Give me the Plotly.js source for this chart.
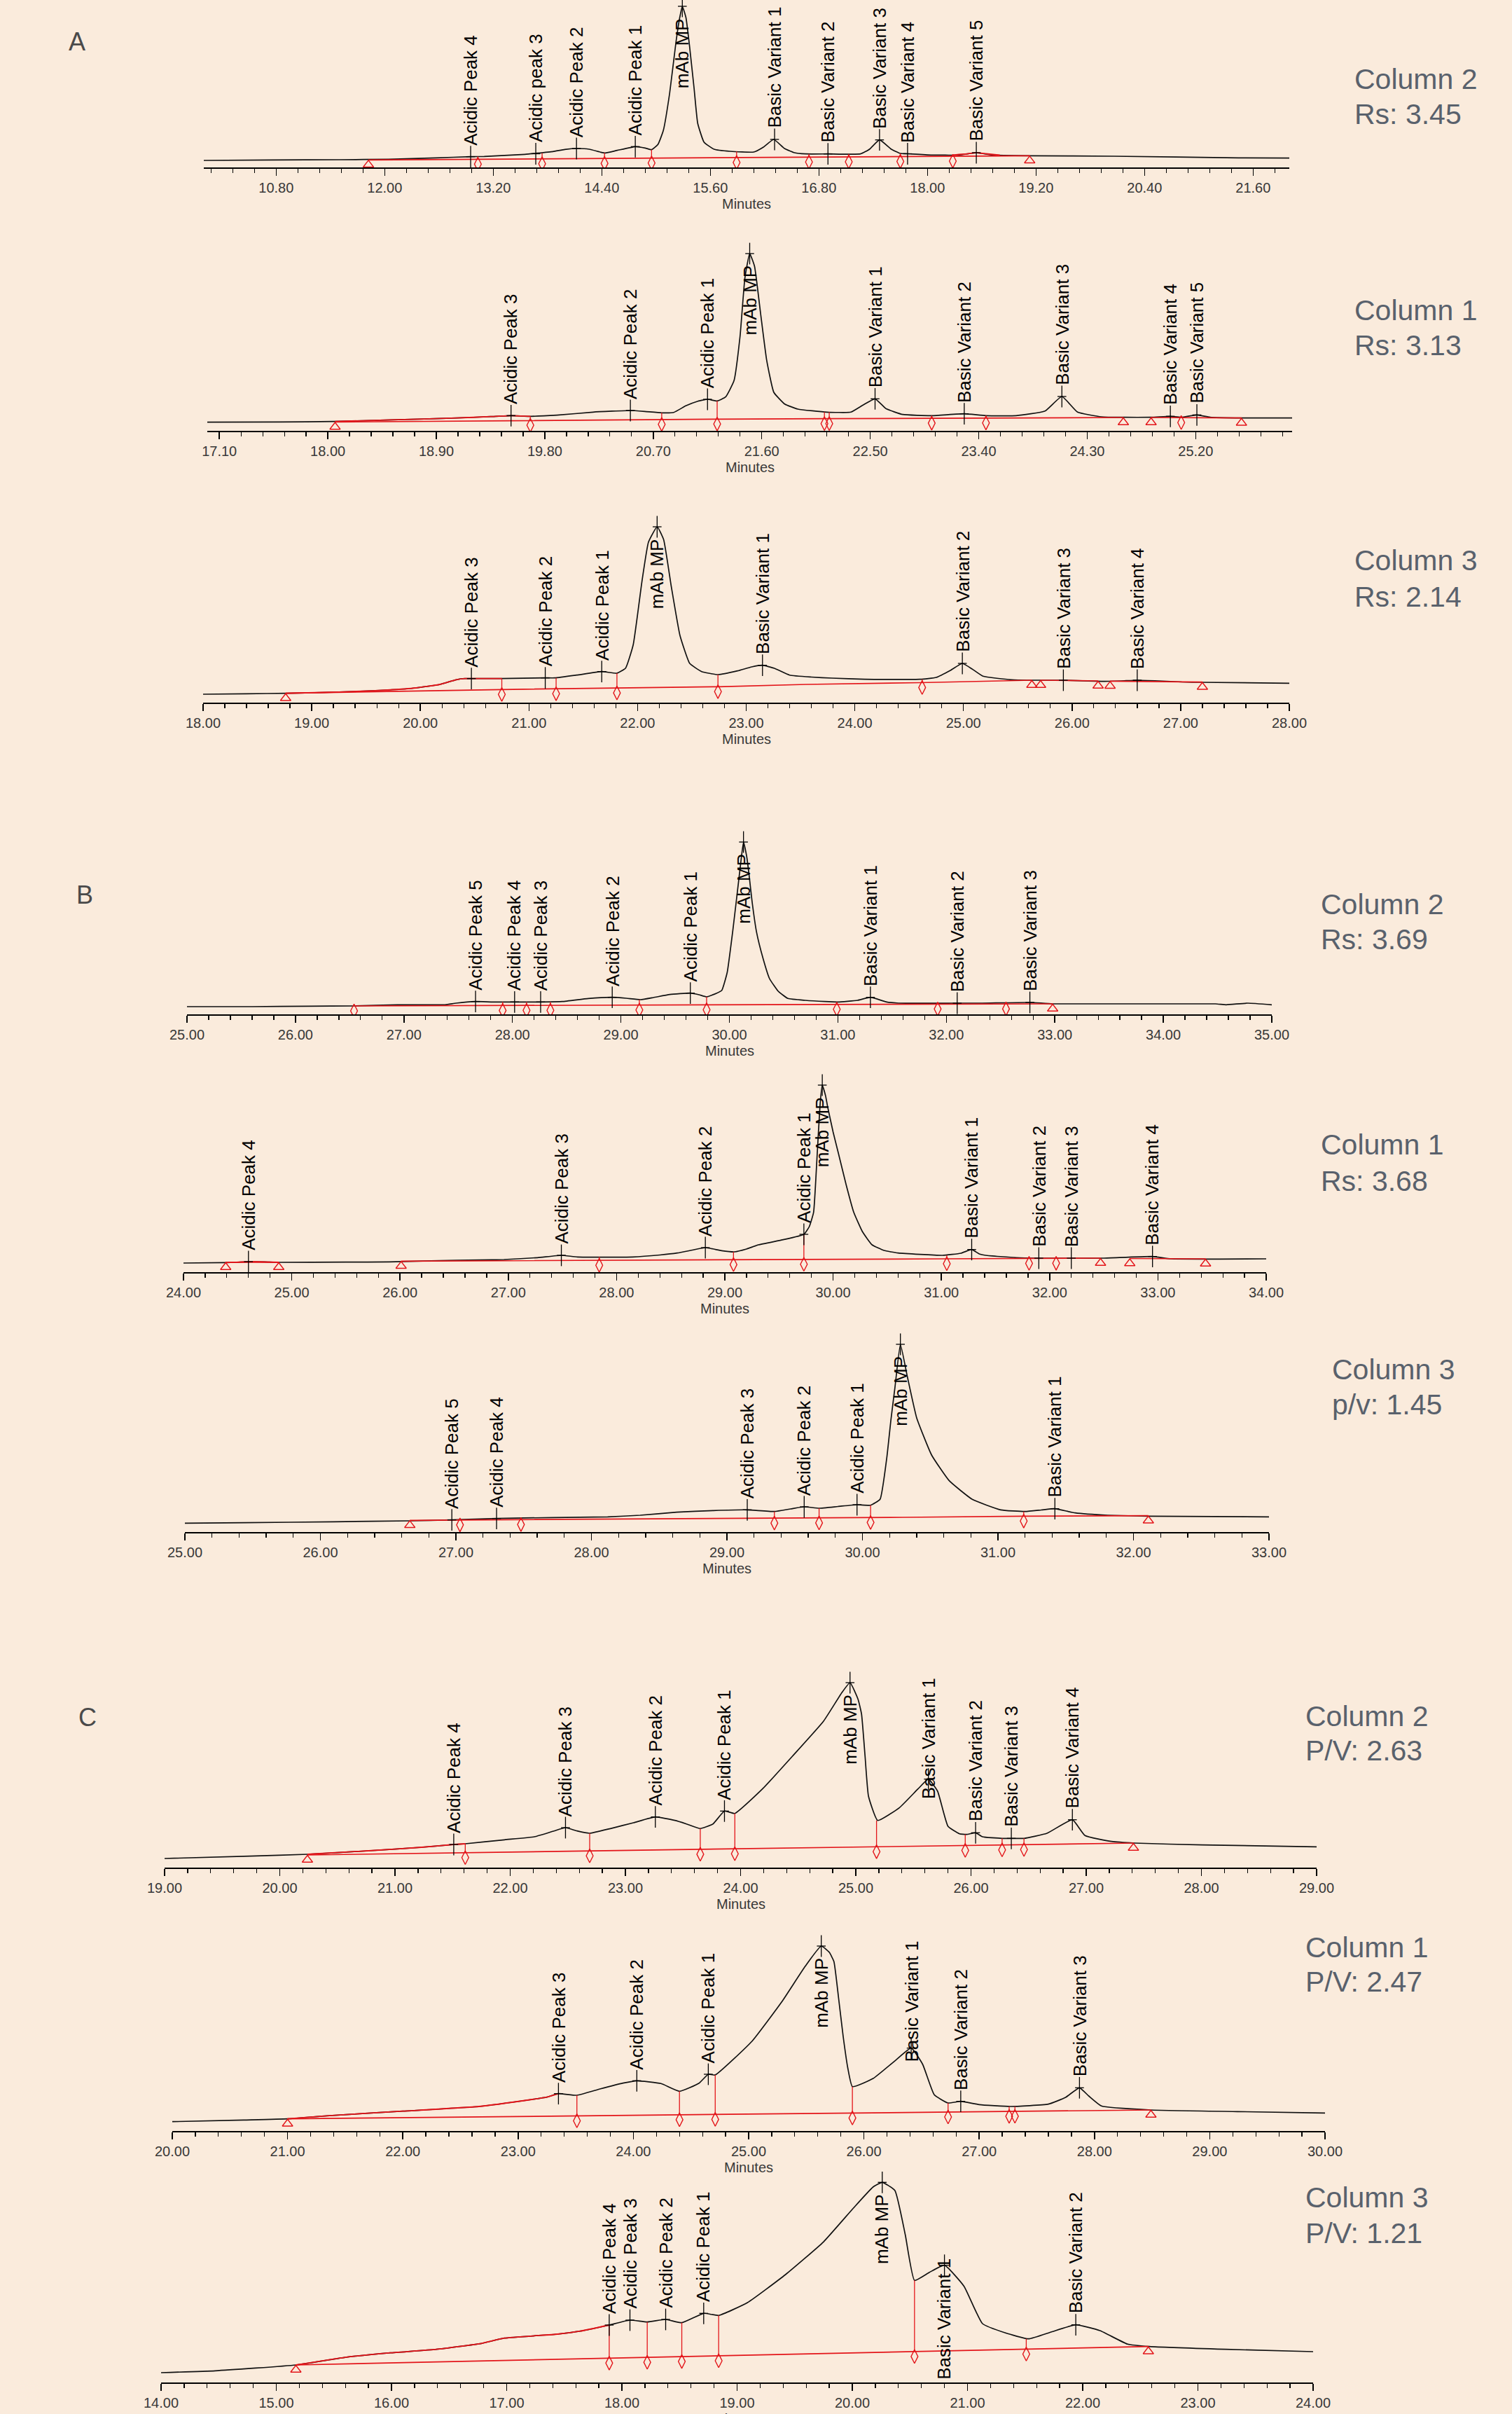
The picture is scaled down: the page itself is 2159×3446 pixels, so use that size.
<!DOCTYPE html>
<html><head><meta charset="utf-8">
<script src="https://cdn.plot.ly/plotly-3.0.1.min.js"></script>
<style>html,body{margin:0;padding:0;background:#FAEBDC}#chart{width:2159px;height:3446px}</style>
</head><body><div id="chart"></div>
<script>
// ===================== DATA =====================
// Heights are signal heights above the time axis (arbitrary units).
// ---- A, Column 2 ----
const A1_x = [10.00,10.75,11.50,12.04,12.57,12.95,13.10,13.55,13.68,13.86,13.99,14.13,14.26,14.39,14.44,14.57,14.77,14.88,14.95,15.02,15.08,15.15,15.22,15.26,15.29,15.33,15.37,15.42,15.46,15.53,15.64,15.82,16.08,16.19,16.30,16.42,16.53,16.65,16.90,17.26,17.36,17.47,17.60,17.70,17.78,18.04,18.35,18.54,18.72,19.14,20.06,21.44,22.00];
const A1_y = [10,10.7,11,11.7,13.7,15.3,15.7,18.7,20.3,22.7,25.7,27,26,21.7,20.7,24.3,29.7,27.7,25.3,32.7,52.7,106,179,213,230,214,173,113,63,36,26,23,22,29.3,40,27,21,19.3,19.3,19.3,26,39.3,26,20,19.5,17.7,17.7,21,17.7,16.7,16,13.7,13.3];
const A1_bx = [11.82,19.13];
const A1_by = [10.7,16.7];
const A1_rx = [18.28,18.45,18.54,18.65,18.80];
const A1_ry = [17.7,19.5,21,19.5,17.5];
const A1_vx = [13.03,13.74,14.43,14.95,15.89,16.69,17.13,17.70,18.28];
const A1_vy = [15.5,20.5,20.8,25.3,22.8,19.3,19.3,20,17.7];
const A1_tri = [11.82,19.13];
const A1_names = ["Acidic Peak 4","Acidic peak 3","Acidic Peak 2","Acidic Peak 1","mAb MP","Basic Variant 1","Basic Variant 2","Basic Variant 3","Basic Variant 4","Basic Variant 5"];
const A1_px = [12.95,13.67,14.12,14.77,15.29,16.31,16.90,17.47,17.78,18.54];
const A1_ph = [15.3,19.5,27,29.7,230,40,19.3,39.3,19.5,21];
const A1_label = ["Column 2","Rs: 3.45"];

// ---- A, Column 1 ----
const A2_x = [17.00,17.60,18.05,18.53,19.07,19.35,19.52,19.68,19.90,20.20,20.51,20.63,20.77,20.87,20.97,21.07,21.15,21.23,21.30,21.37,21.42,21.46,21.50,21.54,21.59,21.64,21.70,21.79,21.90,22.14,22.34,22.44,22.54,22.63,22.77,23.01,23.28,23.46,23.71,23.95,24.09,24.22,24.42,24.60,24.83,24.99,25.08,25.21,25.32,25.58,26.00];
const A2_y = [12.3,12.7,13.3,15.7,18.3,20.3,21.7,20.7,22.3,26.7,29,27.7,25.7,26.3,35.7,42.3,45,42.7,48.3,71.7,135,218,253,235,168,101.7,55,38.3,31,26.7,26.7,36.7,45.7,31.7,23.3,21.7,24.3,21.7,21.7,28.3,49,26.7,20,19.3,19.3,20.7,19.3,22.7,19.3,18.3,18.3];
const A2_bx = [18.06,19.68,21.23,22.14,24.60,null,24.83,25.58];
const A2_by = [12.5,15,16.7,17.3,19,null,19,18.3];
const A2_rx = [18.06,18.53,19.07,19.35,19.52,19.68];
const A2_ry = [13.3,15.7,18.3,20.3,21.7,20.7];
const A2_vx = [19.68,20.77,21.23,22.12,22.16,23.01,23.46,25.08];
const A2_vy = [20.7,25.7,42.7,26.7,26.7,21.7,21.7,19.3];
const A2_tri = [18.06,24.60,24.83,25.58];
const A2_names = ["Acidic Peak 3","Acidic Peak 2","Acidic Peak 1","mAb MP","Basic Variant 1","Basic Variant 2","Basic Variant 3","Basic Variant 4","Basic Variant 5"];
const A2_px = [19.52,20.51,21.15,21.50,22.54,23.28,24.09,24.99,25.21];
const A2_ph = [21.7,29,45,253,45.7,24.3,49,20.7,22.7];
const A2_label = ["Column 1","Rs: 3.13"];

// ---- A, Column 3 ----
const A3_x = [18.00,18.40,18.78,19.10,19.41,19.70,19.96,20.18,20.33,20.41,20.47,20.74,20.95,21.15,21.24,21.44,21.67,21.81,21.89,21.96,22.04,22.10,22.18,22.24,22.31,22.39,22.48,22.59,22.74,22.92,23.05,23.15,23.26,23.40,23.60,23.79,24.09,24.60,24.75,24.88,24.99,25.08,25.18,25.44,25.62,25.92,26.27,26.45,26.60,26.80,27.01,27.20,28.00];
const A3_y = [12,12.7,13.3,14.5,16,18,21,26,32.7,34.3,34.3,34.3,34.8,35.3,35.3,39.3,44.3,42,49.3,82.7,172.7,229,251,232.7,166,96,56,44.3,40,45.3,51,53.3,49,39.3,36.5,35,33.3,33.3,36,46,56,48,37.7,32.7,32,32,30.3,31,32,31,29.5,29,27.7];
const A3_bx = [18.76,20.75,22.74,23.55,24.60,25.63,null,25.71,26.24,null,26.35,27.20];
const A3_by = [13.3,18.7,22.7,26,28.5,32,null,32,31,null,30.7,29.3];
const A3_rx = [18.76,19.10,19.41,19.70,19.96,20.18,20.33,20.41,20.47,20.75];
const A3_ry = [13.3,14.5,16,18,21,26,32.7,34.3,34.3,34.3];
const A3_vx = [20.75,21.25,21.81,22.74,24.62];
const A3_vy = [34.3,35.3,42,40,33.3];
const A3_tri = [18.76,25.63,25.71,26.24,26.35,27.20];
const A3_names = ["Acidic Peak 3","Acidic Peak 2","Acidic Peak 1","mAb MP","Basic Variant 1","Basic Variant 2","Basic Variant 3","Basic Variant 4"];
const A3_px = [20.47,21.15,21.67,22.18,23.15,24.99,25.92,26.60];
const A3_ph = [34.3,35.3,44.3,251,53.3,56,32,32];
const A3_label = ["Column 3","Rs: 2.14"];

// ---- B, Column 2 ----
const B1_x = [25.00,25.60,26.12,26.54,26.94,27.38,27.48,27.66,27.82,28.02,28.26,28.46,28.70,28.92,29.05,29.18,29.30,29.45,29.64,29.72,29.79,29.88,29.93,29.98,30.03,30.07,30.10,30.13,30.16,30.18,30.21,30.25,30.31,30.37,30.45,30.54,30.70,30.88,31.00,31.18,31.30,31.45,31.56,32.10,32.33,32.77,32.98,34.48,34.58,34.78,35.00];
const B1_y = [11,11,11.7,12,13.7,13.7,16,18.3,17.7,17.7,17.7,18.3,22.7,24.3,23,21,24,28.3,30.3,28,25,30,34.3,60,117.7,170,210,246,225,201,160,117.7,80,51,33,22.7,20,18.3,17.7,20,24.3,17.7,16,16,16,17,15,15,13.7,16,13.7];
const B1_bx = [26.54,28.80,31.45,32.98];
const B1_by = [12,13,14.5,15];
const B1_rx = [];
const B1_ry = [];
const B1_vx = [26.54,27.91,28.13,28.35,29.17,29.79,30.99,31.92,32.55];
const B1_vy = [12,17.7,17.7,17.7,21,25,17.7,16,16];
const B1_tri = [32.98];
const B1_names = ["Acidic Peak 5","Acidic Peak 4","Acidic Peak 3","Acidic Peak 2","Acidic Peak 1","mAb MP","Basic Variant 1","Basic Variant 2","Basic Variant 3"];
const B1_px = [27.66,28.02,28.26,28.92,29.64,30.13,31.30,32.10,32.77];
const B1_ph = [18.3,17.7,17.7,24.3,30.3,246,24.3,16,17];
const B1_label = ["Column 2","Rs: 3.69"];

// ---- B, Column 1 ----
const B2_x = [24.00,24.39,24.48,24.61,24.75,24.88,25.50,25.90,26.52,26.96,27.27,27.49,27.64,28.15,28.40,28.56,28.70,28.82,28.97,29.09,29.20,29.31,29.54,29.73,29.78,29.82,29.85,29.88,29.90,29.93,29.95,30.00,30.05,30.12,30.19,30.27,30.36,30.47,30.60,31.01,31.18,31.28,31.35,31.41,31.69,31.90,32.20,32.50,32.95,33.12,34.00];
const B2_y = [13,13.7,14,15,14.7,14,14.3,14.7,17,18,20.7,24,21.7,21.7,24.5,27.3,31.5,35,30.7,29,33,39,46.3,54,65,85.7,160,240,267,252,235.7,200,169,125,85.7,58,39,31,27.3,24,27,32.3,26,24,20.7,20,20,20,22.3,19,19];
const B2_bx = [24.39,24.88,null,26.01,27.5,29.3,31.0,32.47,null,32.74,33.44];
const B2_by = [14,14,null,15.7,16.5,18,19,20,null,19.5,19];
const B2_rx = [24.39,24.48,24.61,24.75,24.88];
const B2_ry = [13.7,14.2,15,14.7,14];
const B2_vx = [27.84,29.08,29.73,31.05,31.81,32.06];
const B2_vy = [21.7,29,54,24,20.3,20];
const B2_tri = [24.39,24.88,26.01,32.47,32.74,33.44];
const B2_names = ["Acidic Peak 4","Acidic Peak 3","Acidic Peak 2","Acidic Peak 1","mAb MP","Basic Variant 1","Basic Variant 2","Basic Variant 3","Basic Variant 4"];
const B2_px = [24.60,27.49,28.82,29.73,29.90,31.28,31.90,32.20,32.95];
const B2_ph = [15,24,35,54,267,32.3,20,20,22.3];
const B2_label = ["Column 1","Rs: 3.68"];

// ---- B, Column 3 ----
const B3_x = [25.00,25.45,26.10,26.66,26.97,27.30,27.71,28.12,28.36,28.63,28.90,29.15,29.35,29.47,29.57,29.68,29.82,29.96,30.06,30.13,30.18,30.21,30.24,30.28,30.33,30.40,30.51,30.64,30.81,31.02,31.20,31.32,31.42,31.57,31.81,32.11,33.00];
const B3_y = [12.7,13.3,14.7,16,17.3,19.3,20.7,21.7,24,28.3,30.7,31.7,29.3,33,36,34,36.5,39,38.3,46.7,106.7,160,206.7,268,223,163,110,73.3,46.7,31.7,29.3,31.5,33.3,27.3,24,22.7,21.7];
const B3_bx = [26.66,27.5,28.5,29.6,30.3,31.19,32.11];
const B3_by = [16.7,17.7,19.3,20,21,22.7,23.3];
const B3_rx = [];
const B3_ry = [];
const B3_vx = [27.03,27.48,29.35,29.68,30.06,31.19];
const B3_vy = [17.5,19.7,29.3,34,38.3,29.3];
const B3_tri = [26.66,32.11];
const B3_names = ["Acidic Peak 5","Acidic Peak 4","Acidic Peak 3","Acidic Peak 2","Acidic Peak 1","mAb MP","Basic Variant 1"];
const B3_px = [26.97,27.30,29.15,29.57,29.96,30.28,31.42];
const B3_ph = [17.3,19.3,31.7,36,39,268,33.3];
const B3_label = ["Column 3","p/v: 1.45"];

// ---- C, Column 2 ----
const C1_x = [19.00,19.74,20.24,20.77,21.23,21.51,21.61,21.95,22.21,22.38,22.48,22.58,22.69,22.87,23.07,23.26,23.43,23.53,23.65,23.76,23.86,23.95,24.19,24.45,24.72,24.88,24.95,25.02,25.05,25.08,25.11,25.19,25.38,25.54,25.63,25.71,25.80,25.90,25.96,26.04,26.10,26.27,26.35,26.46,26.66,26.88,26.99,27.22,27.42,28.01,29.00];
const C1_y = [13,16.3,19,24,29,33,34,39.7,44,52.3,57,52.3,49,55.7,64,72.3,67.3,62.3,55.7,62.3,80.7,77.3,112.3,159,209,250,264,240,219,160,102,67.3,85.7,112.3,126.3,109,59,48.3,47.3,49.7,44,41.7,41.7,41.7,49,68.3,45.7,37.3,35,32.3,29.7];
const C1_bx = [20.24,27.41];
const C1_by = [18,35];
const C1_rx = [20.24,20.77,21.23,21.51,21.61];
const C1_ry = [19,24,29,33,34];
const C1_vx = [21.61,22.69,23.65,23.95,25.18,25.95,26.27,26.46];
const C1_vy = [34,49,55.7,77.3,67.3,47.3,41.7,41.7];
const C1_tri = [20.24,27.41];
const C1_names = ["Acidic Peak 4","Acidic Peak 3","Acidic Peak 2","Acidic Peak 1","mAb MP","Basic Variant 1","Basic Variant 2","Basic Variant 3","Basic Variant 4"];
const C1_px = [21.51,22.48,23.26,23.86,24.95,25.63,26.04,26.35,26.88];
const C1_ph = [33,57,72.3,80.7,264,126.3,49.7,41.7,68.3];
const C1_label = ["Column 2","P/V: 2.63"];

// ---- C, Column 1 ----
const C2_x = [20.00,20.62,21.00,21.34,22.00,22.66,23.12,23.25,23.35,23.51,23.71,23.91,24.03,24.24,24.40,24.57,24.65,24.71,25.03,25.29,25.49,25.63,25.70,25.74,25.78,25.82,25.86,25.90,26.08,26.28,26.41,26.51,26.61,26.73,26.84,27.00,27.27,27.60,27.75,27.87,27.95,28.06,28.49,29.24,30.00];
const C2_y = [13.3,15.7,17.3,21.7,28.3,35,45,48.3,53.3,51,60,68.3,71.7,67.7,56.7,68.3,81,80,128.3,185,235,264,255,241.7,190,135,90,63.3,75,101.7,118.3,95,51.7,40,42.3,37.7,35,38.3,48,61.7,50,35.7,30,27.7,25.7];
const C2_bx = [21.00,28.49];
const C2_by = [17.3,30];
const C2_rx = [21.00,21.34,22.00,22.66,23.12,23.25,23.35];
const C2_ry = [17.3,21.7,28.3,35,45,48.3,53.3];
const C2_vx = [23.51,24.40,24.71,25.90,26.73,27.26,27.31];
const C2_vy = [51,56.7,80,63.3,40,35,35];
const C2_tri = [21.00,28.49];
const C2_names = ["Acidic Peak 3","Acidic Peak 2","Acidic Peak 1","mAb MP","Basic Variant 1","Basic Variant 2","Basic Variant 3"];
const C2_px = [23.35,24.03,24.65,25.63,26.41,26.84,27.87];
const C2_ph = [53.3,71.7,81,264,118.3,42.3,61.7];
const C2_label = ["Column 1","P/V: 2.47"];

// ---- C, Column 3 ----
const C3_x = [14.00,14.47,15.17,15.59,15.99,16.39,16.78,16.98,17.44,17.64,17.89,18.07,18.22,18.38,18.52,18.71,18.84,19.09,19.42,19.75,20.01,20.18,20.26,20.37,20.46,20.54,20.67,20.80,20.97,21.13,21.33,21.53,21.73,21.94,22.15,22.39,22.58,23.24,24.00];
const C3_y = [14,16.7,25,35.7,42.3,47.3,55.7,63.3,69,73.3,82,89,86.3,90,85.3,98.7,95.7,114,154,200.7,249,279,285.7,274,210.7,145.7,157.3,167.3,137.3,84,70.7,62.3,72.3,82.3,74,54.7,51.3,47.3,44];
const C3_bx = [15.17,22.57];
const C3_by = [25,51.3];
const C3_rx = [15.17,15.59,15.99,16.39,16.78,16.98,17.44,17.64,17.89];
const C3_ry = [25,35.7,42.3,47.3,55.7,63.3,69,73.3,82];
const C3_vx = [17.89,18.22,18.52,18.84,20.54,21.51];
const C3_vy = [82,86.3,85.3,95.7,145.7,62.3];
const C3_tri = [15.17,22.57];
const C3_names = ["Acidic Peak 4","Acidic Peak 3","Acidic Peak 2","Acidic Peak 1","mAb MP","Basic Variant 1","Basic Variant 2"];
const C3_px = [17.89,18.07,18.38,18.71,20.26,20.80,21.94];
const C3_ph = [82,89,90,98.7,285.7,167.3,82.3];
const C3_label = ["Column 3","P/V: 1.21"];

const SECTION_LETTERS = ["A","B","C"];

// ===================== LAYOUT / STYLE =====================
const W = 2159, HPX = 3446;
const BG = '#FAEBDC', RED = '#e3151a', FONT = 'Liberation Sans, Arial, sans-serif';
// pixel geometry of each panel: axis left/right px, axis line y px, range, ticks, label box
const GEOM = [
  {x0:291,x1:1841,ay:239, r:[10,22],t0:10.8,dt:1.2,mn:0.24,H:237, lx:1932,ly:[113,163]},
  {x0:296,x1:1845,ay:615, r:[17,26],t0:17.1,dt:0.9,mn:0.18,H:300, lx:1932,ly:[443,493]},
  {x0:290,x1:1841,ay:1003,r:[18,28],t0:18,dt:1,mn:0.2,H:300, lx:1932,ly:[800,852]},
  {x0:267,x1:1816,ay:1448,r:[25,35],t0:25,dt:1,mn:0.2,H:300, lx:1884,ly:[1291,1341]},
  {x0:262,x1:1808,ay:1816,r:[24,34],t0:24,dt:1,mn:0.2,H:300, lx:1884,ly:[1634,1686]},
  {x0:264,x1:1812,ay:2187,r:[25,33],t0:25,dt:1,mn:0.2,H:300, lx:1900,ly:[1955,2005]},
  {x0:235,x1:1880,ay:2666,r:[19,29],t0:19,dt:1,mn:0.2,H:300, lx:1862,ly:[2450,2499]},
  {x0:246,x1:1892,ay:3042,r:[20,30],t0:20,dt:1,mn:0.2,H:300, lx:1862,ly:[2780,2829]},
  {x0:230,x1:1875,ay:3401,r:[14,24],t0:14,dt:1,mn:0.2,H:300, lx:1862,ly:[3137,3188]}
];
const LETTER_POS = [[110,59],[121,1277],[125,2451]];

const PANELS = [
  {x:A1_x,y:A1_y,bx:A1_bx,by:A1_by,rx:A1_rx,ry:A1_ry,vx:A1_vx,vy:A1_vy,tri:A1_tri,names:A1_names,px:A1_px,ph:A1_ph,label:A1_label},
  {x:A2_x,y:A2_y,bx:A2_bx,by:A2_by,rx:A2_rx,ry:A2_ry,vx:A2_vx,vy:A2_vy,tri:A2_tri,names:A2_names,px:A2_px,ph:A2_ph,label:A2_label},
  {x:A3_x,y:A3_y,bx:A3_bx,by:A3_by,rx:A3_rx,ry:A3_ry,vx:A3_vx,vy:A3_vy,tri:A3_tri,names:A3_names,px:A3_px,ph:A3_ph,label:A3_label},
  {x:B1_x,y:B1_y,bx:B1_bx,by:B1_by,rx:B1_rx,ry:B1_ry,vx:B1_vx,vy:B1_vy,tri:B1_tri,names:B1_names,px:B1_px,ph:B1_ph,label:B1_label},
  {x:B2_x,y:B2_y,bx:B2_bx,by:B2_by,rx:B2_rx,ry:B2_ry,vx:B2_vx,vy:B2_vy,tri:B2_tri,names:B2_names,px:B2_px,ph:B2_ph,label:B2_label},
  {x:B3_x,y:B3_y,bx:B3_bx,by:B3_by,rx:B3_rx,ry:B3_ry,vx:B3_vx,vy:B3_vy,tri:B3_tri,names:B3_names,px:B3_px,ph:B3_ph,label:B3_label},
  {x:C1_x,y:C1_y,bx:C1_bx,by:C1_by,rx:C1_rx,ry:C1_ry,vx:C1_vx,vy:C1_vy,tri:C1_tri,names:C1_names,px:C1_px,ph:C1_ph,label:C1_label},
  {x:C2_x,y:C2_y,bx:C2_bx,by:C2_by,rx:C2_rx,ry:C2_ry,vx:C2_vx,vy:C2_vy,tri:C2_tri,names:C2_names,px:C2_px,ph:C2_ph,label:C2_label},
  {x:C3_x,y:C3_y,bx:C3_bx,by:C3_by,rx:C3_rx,ry:C3_ry,vx:C3_vx,vy:C3_vy,tri:C3_tri,names:C3_names,px:C3_px,ph:C3_ph,label:C3_label}
];
// label hanging below its apex (panel index, peak name)
const HANG = [[8,"Basic Variant 1"]];

function baseAt(bx, by, x) {
  for (let i = 0; i < bx.length - 1; i++) {
    const a = bx[i], b = bx[i+1];
    if (a === null || b === null) continue;
    if (x >= a - 1e-6 && x <= b + 1e-6) { const t = (b === a) ? 0 : (x - a) / (b - a); return by[i] + t * (by[i+1] - by[i]); }
  }
  let best = by[0], bd = 1e9;
  for (let i = 0; i < bx.length; i++) { if (bx[i] === null) continue; const d = Math.abs(bx[i] - x); if (d < bd) { bd = d; best = by[i]; } }
  return best;
}

const canvas = document.createElement('canvas');
const ctx = canvas.getContext('2d');
ctx.font = "26px 'Liberation Sans'";
function textLen(s) { return ctx.measureText(s).width; }

const traces = [];
const layout = {
  width: W, height: HPX, margin: {l:0,r:0,t:0,b:0,pad:0},
  paper_bgcolor: BG, plot_bgcolor: 'rgba(0,0,0,0)', showlegend: false,
  font: {family: FONT}, annotations: []
};

PANELS.forEach((p, i) => {
  const g = GEOM[i];
  const n = i + 1;
  const xa = n === 1 ? 'x' : 'x' + n, ya = n === 1 ? 'y' : 'y' + n;
  const xk = n === 1 ? 'xaxis' : 'xaxis' + n, yk = n === 1 ? 'yaxis' : 'yaxis' + n;
  const yb = (HPX - g.ay) / HPX, yt = (HPX - g.ay + g.H) / HPX;
  layout[xk] = {
    domain: [g.x0 / W, g.x1 / W], range: g.r, anchor: ya, fixedrange: true,
    showline: true, linecolor: '#000', linewidth: 2, mirror: false,
    ticks: 'outside', ticklen: 10, tickwidth: 1.5, tickcolor: '#000',
    tick0: g.t0, dtick: g.dt, tickformat: '.2f',
    tickfont: {family: FONT, size: 20, color: '#383838'},
    showgrid: false, zeroline: false,
    minor: {ticks: 'outside', ticklen: 6, tickwidth: 1.3, tickcolor: '#000', tick0: g.t0, dtick: g.mn, showgrid: false}
  };
  layout[yk] = {domain: [yb, yt], range: [0, g.H], anchor: xa, visible: false, fixedrange: true};

  // chromatogram
  traces.push({x: p.x, y: p.y, xaxis: xa, yaxis: ya, mode: 'lines', hoverinfo: 'skip',
    line: {color: '#111', width: 1.7, shape: 'spline', smoothing: 0.4}});
  // red part of trace
  if (p.rx.length) traces.push({x: p.rx, y: p.ry, xaxis: xa, yaxis: ya, mode: 'lines', hoverinfo: 'skip',
    line: {color: RED, width: 1.8, shape: 'spline', smoothing: 0.4}});
  // baseline
  traces.push({x: p.bx, y: p.by, xaxis: xa, yaxis: ya, mode: 'lines', hoverinfo: 'skip', connectgaps: false,
    line: {color: RED, width: 1.7}});
  // drop lines
  const dx = [], dy = [];
  p.vx.forEach((v, k) => { dx.push(v, v, null); dy.push(baseAt(p.bx, p.by, v), p.vy[k], null); });
  traces.push({x: dx, y: dy, xaxis: xa, yaxis: ya, mode: 'lines', hoverinfo: 'skip', line: {color: RED, width: 1.3}});
  // diamonds
  traces.push({x: p.vx, y: p.vx.map(v => baseAt(p.bx, p.by, v) - 7), xaxis: xa, yaxis: ya, mode: 'markers', hoverinfo: 'skip',
    marker: {symbol: 'diamond-tall-open', size: 14, color: RED, line: {color: RED, width: 1.4}}});
  // triangles
  traces.push({x: p.tri, y: p.tri.map(v => baseAt(p.bx, p.by, v) - 7), xaxis: xa, yaxis: ya, mode: 'markers', hoverinfo: 'skip',
    marker: {symbol: 'triangle-up-open', size: 13, color: RED, line: {color: RED, width: 1.4}}});
  // apex ticks
  traces.push({x: p.px, y: p.ph, xaxis: xa, yaxis: ya, mode: 'markers', hoverinfo: 'skip', cliponaxis: false,
    marker: {symbol: 'line-ns-open', size: 22, color: '#000', line: {color: '#000', width: 1.3}}});
  traces.push({x: p.px, y: p.ph, xaxis: xa, yaxis: ya, mode: 'markers', hoverinfo: 'skip', cliponaxis: false,
    marker: {symbol: 'line-ew-open', size: 9, color: '#000', line: {color: '#000', width: 1.3}}});

  // peak labels
  const maxH = Math.max.apply(null, p.ph);
  p.names.forEach((nm, k) => {
    const len = textLen(nm);
    const a = {x: p.px[k], y: p.ph[k], xref: xa, yref: ya, text: nm, textangle: -90, showarrow: false,
      font: {family: FONT, size: 26, color: '#000'}, xanchor: 'center', borderpad: 0, borderwidth: 0};
    const hang = HANG.some(h => h[0] === i && h[1] === nm);
    if (nm === 'mAb MP') { a.yanchor = 'top'; a.yshift = -17; }
    else if (hang) { a.yanchor = 'top'; a.yshift = 10; }
    else if (p.ph[k] + 16 + len > maxH + 7) { a.y = maxH + 7; a.yanchor = 'top'; }
    else { a.yanchor = 'bottom'; a.yshift = 16; }
    layout.annotations.push(a);
  });

  // axis title "Minutes"
  layout.annotations.push({xref: 'paper', yref: 'paper', x: (g.x0 + g.x1) / 2 / W, y: 1 - (g.ay + 52) / HPX,
    text: 'Minutes', showarrow: false, xanchor: 'center', yanchor: 'middle', font: {family: FONT, size: 20, color: '#383838'}});
  // column / resolution labels
  p.label.forEach((t, k) => {
    layout.annotations.push({xref: 'paper', yref: 'paper', x: g.lx / W, y: 1 - g.ly[k] / HPX, text: t, showarrow: false,
      xanchor: 'left', yanchor: 'middle', font: {family: FONT, size: 41, color: '#59616c'}});
  });
});

SECTION_LETTERS.forEach((s, k) => {
  layout.annotations.push({xref: 'paper', yref: 'paper', x: LETTER_POS[k][0] / W, y: 1 - LETTER_POS[k][1] / HPX, text: s,
    showarrow: false, xanchor: 'center', yanchor: 'middle', font: {family: FONT, size: 36, color: '#4a4a4a'}});
});

Plotly.newPlot('chart', traces, layout, {staticPlot: true, displayModeBar: false, responsive: false});
</script>
</body></html>
